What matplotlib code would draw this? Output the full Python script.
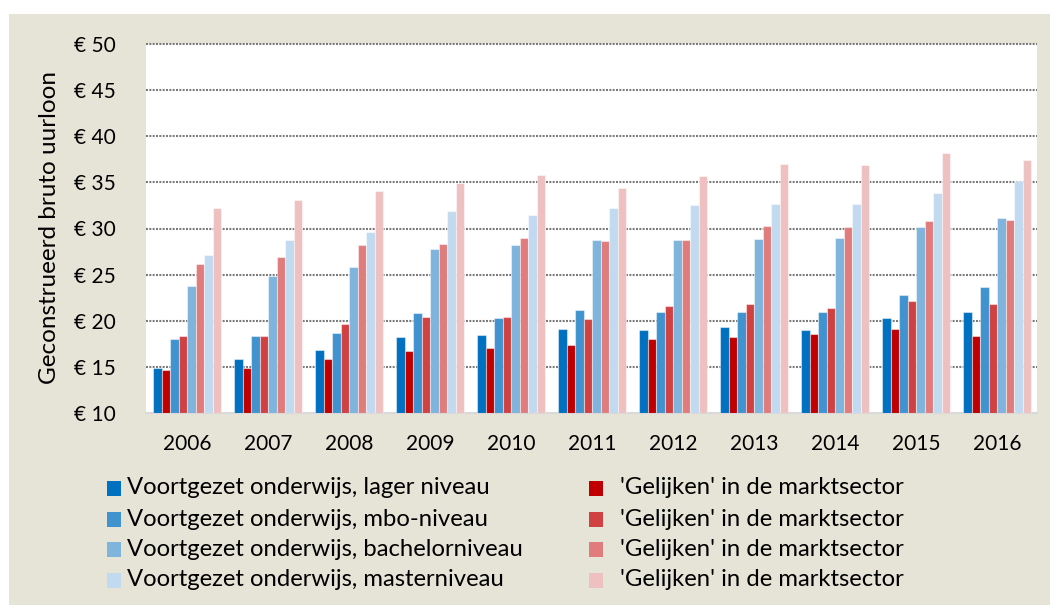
import numpy as np
import matplotlib
matplotlib.use("Agg")
import matplotlib.pyplot as plt
from matplotlib.patches import Rectangle

plt.rcParams["font.family"] = ["Lato", "DejaVu Sans"]

jaren = ["2006", "2007", "2008", "2009", "2010", "2011", "2012", "2013", "2014", "2015", "2016"]

# Voortgezet onderwijs per niveau
vo_lager = [14.9, 15.9, 16.8, 18.2, 18.5, 19.1, 19.0, 19.3, 19.0, 20.3, 21.0]
vo_mbo = [18.0, 18.4, 18.7, 20.8, 20.3, 21.2, 20.9, 21.0, 20.9, 22.8, 23.7]
vo_bachelor = [23.8, 24.8, 25.8, 27.8, 28.2, 28.7, 28.7, 28.9, 29.0, 30.2, 31.1]
vo_master = [27.1, 28.7, 29.6, 31.9, 31.5, 32.2, 32.5, 32.7, 32.7, 33.9, 35.1]

# 'Gelijken' in de marktsector per niveau
markt_lager = [14.7, 14.9, 15.8, 16.7, 17.0, 17.4, 18.0, 18.2, 18.6, 19.1, 18.4]
markt_mbo = [18.4, 18.3, 19.6, 20.4, 20.4, 20.2, 21.6, 21.8, 21.4, 22.1, 21.8]
markt_bachelor = [26.1, 26.9, 28.2, 28.3, 29.0, 28.6, 28.8, 30.3, 30.2, 30.8, 30.9]
markt_master = [32.2, 33.1, 34.1, 34.9, 35.8, 34.4, 35.7, 37.0, 36.9, 38.2, 37.4]

vo_labels = [
    "Voortgezet onderwijs, lager niveau",
    "Voortgezet onderwijs, mbo-niveau",
    "Voortgezet onderwijs, bachelorniveau",
    "Voortgezet onderwijs, masterniveau",
]
markt_label = "'Gelijken' in de marktsector"

kleuren_vo = ["#0070C0", "#4193D0", "#7FB4DD", "#C2DAEF"]
kleuren_markt = ["#C00000", "#D04242", "#E07C7C", "#EFC0C0"]

reeksen = [
    (vo_lager, kleuren_vo[0]), (markt_lager, kleuren_markt[0]),
    (vo_mbo, kleuren_vo[1]), (markt_mbo, kleuren_markt[1]),
    (vo_bachelor, kleuren_vo[2]), (markt_bachelor, kleuren_markt[2]),
    (vo_master, kleuren_vo[3]), (markt_master, kleuren_markt[3]),
]

fig = plt.figure(figsize=(10.53, 6.10), dpi=100)
fig.patch.set_facecolor("white")
fig.patches.append(Rectangle((9 / 1053, 5 / 610), 1041 / 1053, 591 / 610,
                             transform=fig.transFigure, facecolor="#E6E4D7",
                             edgecolor="none", zorder=-5))

ax = fig.add_axes([146 / 1053, 1 - 413 / 610, 891 / 1053, 369 / 610])
ax.set_facecolor("white")

x = np.arange(len(jaren))
breedte = 0.105
for i, (waarden, kleur) in enumerate(reeksen):
    pos = x + (i - 3.5) * breedte
    ax.bar(pos, np.array(waarden) - 10, width=breedte, bottom=10, color=kleur,
           edgecolor=(1, 1, 1, 0.45), linewidth=0.8, zorder=3)

ax.set_ylim(10, 50)
ax.set_xlim(-0.51, 10.49)
ax.set_yticks(range(10, 51, 5))
ax.set_yticklabels([f"€ {v}" for v in range(10, 51, 5)])
ax.set_xticks(x)
ax.set_xticklabels(jaren)
ax.tick_params(axis="both", length=0, labelsize=15, colors="black")
ax.tick_params(axis="y", pad=22)
ax.tick_params(axis="x", pad=15)

# stippellijnen voor het raster
for v in range(15, 51, 5):
    ax.axhline(v, color="#7A7A7A", linewidth=1.5, linestyle=(0, (0.95, 0.65)),
               dash_capstyle="butt", zorder=2, clip_on=False)

for s in ["top", "left", "right"]:
    ax.spines[s].set_visible(False)
ax.spines["bottom"].set_color("#D9D9D9")
ax.spines["bottom"].set_linewidth(1.5)

fig.text(50 / 1053, 1 - 228 / 610, "Geconstrueerd bruto uurloon", rotation=90,
         ha="center", va="center", fontsize=17.5)

# legenda in twee kolommen
rijen_y = [488, 519, 549, 580]
for i in range(4):
    yy = 1 - rijen_y[i] / 610
    fig.patches.append(Rectangle((107 / 1053, yy - 7.5 / 610), 14 / 1053, 15 / 610,
                                 transform=fig.transFigure, facecolor=kleuren_vo[i],
                                 edgecolor="none", zorder=2))
    fig.text(127 / 1053, yy, vo_labels[i], ha="left", va="center", fontsize=17.2)
    fig.patches.append(Rectangle((589 / 1053, yy - 7.5 / 610), 14 / 1053, 15 / 610,
                                 transform=fig.transFigure, facecolor=kleuren_markt[i],
                                 edgecolor="none", zorder=2))
    fig.text(620 / 1053, yy, markt_label, ha="left", va="center", fontsize=17.2)

fig.savefig("out.png", dpi=100, facecolor=fig.get_facecolor())
